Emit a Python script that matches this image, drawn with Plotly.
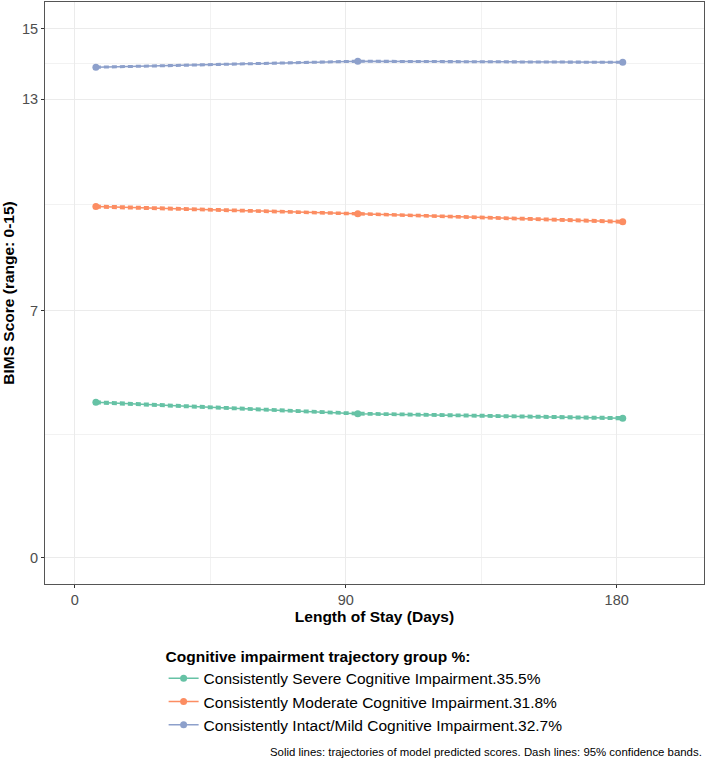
import plotly.graph_objects as go

# ---- data ----
days = [7, 94, 182]
group_names = [
    "Consistently Severe Cognitive Impairment.35.5%",
    "Consistently Moderate Cognitive Impairment.31.8%",
    "Consistently Intact/Mild Cognitive Impairment.32.7%",
]
severe_pred = [4.40, 4.08, 3.95]
severe_lower = [4.37, 4.055, 3.92]
severe_upper = [4.43, 4.105, 3.98]
moderate_pred = [9.95, 9.75, 9.52]
moderate_lower = [9.92, 9.725, 9.49]
moderate_upper = [9.98, 9.775, 9.55]
intact_pred = [13.90, 14.07, 14.04]
intact_lower = [13.885, 14.055, 14.025]
intact_upper = [13.915, 14.085, 14.055]

x_ticks = [0, 90, 180]
x_minor = [45, 135]
y_ticks = [0, 7, 13, 15]
y_minor = [3.5, 10, 14]

colors = ["#66C2A5", "#FC8D62", "#8DA0CB"]
preds = [severe_pred, moderate_pred, intact_pred]
lowers = [severe_lower, moderate_lower, intact_lower]
uppers = [severe_upper, moderate_upper, intact_upper]

FONT = "Liberation Sans, Arial, sans-serif"

fig = go.Figure()
for name, c, p, lo, up in zip(group_names, colors, preds, lowers, uppers):
    for band in (lo, up):
        fig.add_trace(go.Scatter(
            x=days, y=band, mode="lines", showlegend=False, hoverinfo="skip",
            line=dict(color=c, width=2, dash="5px,3px"),
        ))
    fig.add_trace(go.Scatter(
        x=days, y=p, mode="lines+markers", name=name,
        line=dict(color=c, width=1.5),
        marker=dict(color=c, size=7),
    ))

fig.update_layout(
    width=708, height=765,
    paper_bgcolor="white", plot_bgcolor="white",
    margin=dict(l=45, r=4, t=2, b=181),
    font=dict(family=FONT, color="#000000"),
    legend=dict(
        orientation="v",
        x=0.18, xanchor="left",
        y=-0.099, yanchor="top",
        title=dict(text="<b>Cognitive impairment trajectory group %:</b>",
                   font=dict(size=15.5, color="#000000"), side="top"),
        font=dict(size=15.5, color="#000000"),
        tracegroupgap=0, itemwidth=30,
        bgcolor="rgba(0,0,0,0)",
    ),
    annotations=[dict(
        text="Solid lines: trajectories of model predicted scores. Dash lines: 95% confidence bands.",
        xref="paper", yref="paper", x=1, y=-0.289,
        xanchor="right", yanchor="middle", showarrow=False,
        font=dict(size=11.4, color="#000000", family=FONT),
    )],
)

fig.update_xaxes(
    range=[-9.9, 209], automargin=False,
    tickmode="array", tickvals=x_ticks, ticktext=[str(v) for v in x_ticks],
    ticks="outside", ticklen=3, tickcolor="#333333", tickwidth=1,
    tickfont=dict(size=14.5, color="#4D4D4D", family=FONT),
    showgrid=True, gridcolor="#EBEBEB", gridwidth=1,
    minor=dict(tickmode="array", tickvals=x_minor, showgrid=True,
               gridcolor="#F2F2F2", gridwidth=0.6, ticks=""),
    showline=True, linecolor="#555555", linewidth=1, mirror=True,
    zeroline=False,
    title=dict(text="<b>Length of Stay (Days)</b>", font=dict(size=15.5, color="#000000"),
               standoff=3),
)
fig.update_yaxes(
    range=[-0.75, 15.75], automargin=False,
    tickmode="array", tickvals=y_ticks, ticktext=[str(v) for v in y_ticks],
    ticks="outside", ticklen=3, tickcolor="#333333", tickwidth=1,
    tickfont=dict(size=14.5, color="#4D4D4D", family=FONT),
    showgrid=True, gridcolor="#EBEBEB", gridwidth=1,
    minor=dict(tickmode="array", tickvals=y_minor, showgrid=True,
               gridcolor="#F2F2F2", gridwidth=0.6, ticks=""),
    showline=True, linecolor="#555555", linewidth=1, mirror=True,
    zeroline=False,
    title=dict(text="<b>BIMS Score (range: 0-15)</b>", font=dict(size=15.5, color="#000000"),
               standoff=3),
)

fig.write_html(
    "out.html",
    config={"displayModeBar": False},
    post_script="document.body.style.margin='0';document.body.style.overflow='hidden';",
)
